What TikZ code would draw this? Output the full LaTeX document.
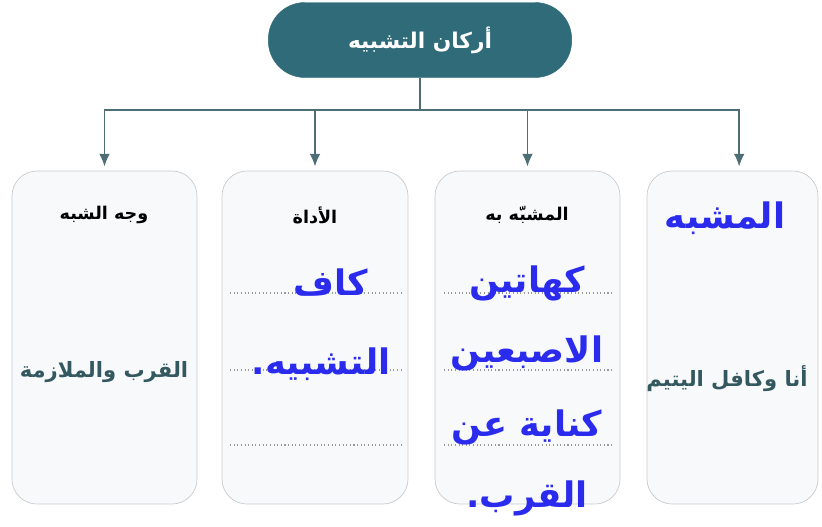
\documentclass[tikz,border=0pt]{standalone}
\usepackage{fontspec}
\usepackage{tikz}
\usetikzlibrary{arrows,arrows.meta}
\TeXXeTstate=1
\newfontfamily\arabicfont[Script=Arabic]{DejaVu Sans}
\definecolor{teal1}{HTML}{2F6B78}
\definecolor{line1}{HTML}{4E6E75}
\definecolor{boxfill}{HTML}{F7F9FB}
\definecolor{boxline}{HTML}{C9CCCF}
\definecolor{bodytxt}{HTML}{34585F}
\definecolor{pen}{HTML}{2B2BEE}
\newcommand{\ar}[1]{\arabicfont\beginR #1\endR}

\begin{document}
\begin{tikzpicture}[x=0.03cm,y=-0.03cm,
	pillbox/.style={draw=teal1,fill=teal1,rounded corners=1.1cm,minimum width=9.1cm,minimum height=2.25cm,text=white,font=\bfseries\fontsize{18.5}{21}\selectfont},
	partbox/.style={draw=boxline,fill=boxfill,line width=0.6pt,rounded corners=0.75cm,minimum height=9.99cm},
	head/.style={font=\bfseries\fontsize{15}{17}\selectfont,text=black},
	body/.style={font=\bfseries\fontsize{18}{20}\selectfont,text=bodytxt},
	handtxt/.style={font=\bfseries\fontsize{30}{34}\selectfont,text=pen},
	arr/.style={-{Latex[length=0.38cm,width=0.32cm]},line1,line width=1.3pt},
	dotline/.style={gray!80,line width=0.9pt,dash pattern=on 0.9pt off 2.2pt}]
\useasboundingbox (0,0) rectangle (822,526);
			\node[pillbox] (title) at (420,40) {\ar{أركان التشبيه}};
			\node[partbox,minimum width=5.55cm] (wajh) at (104.5,337.5) {};
			\node[partbox,minimum width=5.58cm] (adah) at (315,337.5) {};
			\node[partbox,minimum width=5.55cm] (bih) at (527.5,337.5) {};
			\node[partbox,minimum width=5.13cm] (mush) at (732.5,337.5) {};
			\coordinate (bus) at (420,110);
			\draw[line1,line width=1.3pt] (title) -- (bus);
			\draw[arr,shorten >=3.5pt] (bus) -| (wajh.north);
			\draw[arr,shorten >=3.5pt] (bus) -| (adah.north);
			\draw[arr,shorten >=3.5pt] (bus) -| (bih.north);
			\draw[arr,shorten >=3.5pt] (bus) -| ([xshift=0.2cm]mush.north);
			% dotted writing lines
			\foreach \y in {293,370,445} {
				\draw[dotline] (230,\y) -- (401,\y);
				\draw[dotline] (444,\y) -- (612,\y);
			}
			\node[head] (h1) at (104,215) {\ar{وجه الشبه}};
			\node[head] (h2) at (315,215) {\ar{الأداة}};
			\node[head] (h3) at (527,215) {\ar{المشبّه به}};
			\node[body] (b1) at (104,372) {\ar{القرب والملازمة}};
			\node[body] (b4) at (727,379) {\ar{أنا وكافل اليتيم}};
			\node[handtxt] (m1) at (725,218) {\ar{المشبه}};
			\node[handtxt] (a1) at (331,283) {\ar{كاف}};
			\node[handtxt] (a2) at (321,364) {\ar{التشبيه.}};
			\node[handtxt] (c1) at (527,283) {\ar{كهاتين}};
			\node[handtxt] (c2) at (527,353) {\ar{الاصبعين}};
			\node[handtxt] (c3) at (527,427) {\ar{كناية عن}};
			\node[handtxt] (c4) at (527,498) {\ar{القرب.}};
\end{tikzpicture}
\end{document}
